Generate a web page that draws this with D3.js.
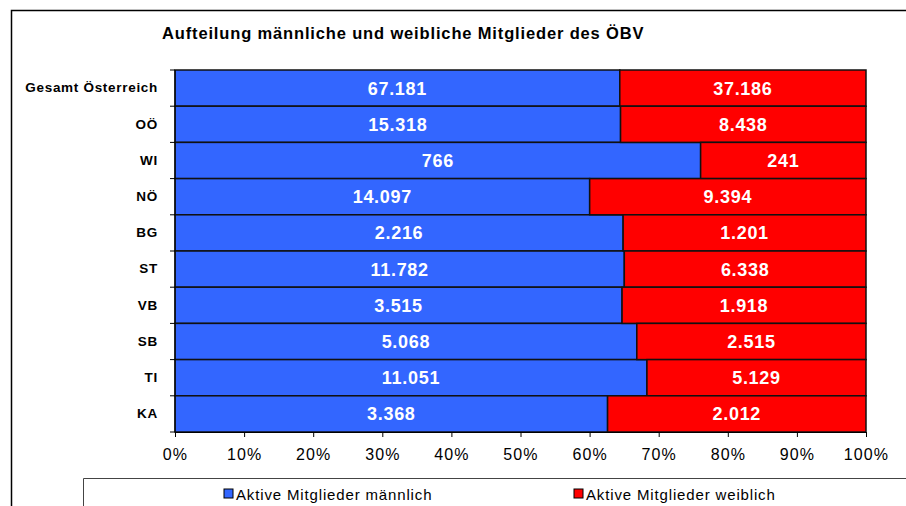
<!DOCTYPE html>
<html>
<head>
<meta charset="utf-8">
<script src="https://cdn.jsdelivr.net/npm/d3@7"></script>
<style>
body { margin: 0; background: #fff; }
svg { font-family: Arial, "Liberation Sans", sans-serif; }
</style>
</head>
<body>
<script>
// data
var regions = ["Gesamt Österreich", "OÖ", "WI", "NÖ", "BG", "ST", "VB", "SB", "TI", "KA"];
var maleValues = [67181, 15318, 766, 14097, 2216, 11782, 3515, 5068, 11051, 3368];
var femaleValues = [37186, 8438, 241, 9394, 1201, 6338, 1918, 2515, 5129, 2012];
var seriesNames = ["Aktive Mitglieder männlich", "Aktive Mitglieder weiblich"];
var xTicks = [0, 0.1, 0.2, 0.3, 0.4, 0.5, 0.6, 0.7, 0.8, 0.9, 1];

var svgWidth = 906, svgHeight = 506;
var margin = {top: 70, left: 175, right: 40, bottom: 74};
var width = svgWidth - margin.left - margin.right;
var height = svgHeight - margin.top - margin.bottom;
var colors = ["#3366FF", "#FF0000"];

var svg = d3.select("body").append("svg")
	.attr("width", svgWidth)
	.attr("height", svgHeight);

// outer frame (open to the right and bottom)
svg.append("path")
	.attr("d", "M11.5," + svgHeight + "V10.5H" + svgWidth)
	.attr("fill", "none")
	.attr("stroke", "#000")
	.attr("stroke-width", 1.5);

svg.append("text")
	.attr("x", 162)
	.attr("y", 39)
	.attr("font-size", "16.5px")
	.attr("font-weight", "bold")
	.attr("letter-spacing", "0.85px")
	.text("Aufteilung männliche und weibliche Mitglieder des ÖBV");

var table = regions.map(function(r, i){
	return {region: r, male: maleValues[i], female: femaleValues[i]};
});
var stack = d3.stack().keys(["male", "female"]).offset(d3.stackOffsetExpand);
var layers = stack(table);

var xScale = d3.scaleLinear().domain([0, 1]).range([0, width]);
var yScale = d3.scaleBand().domain(regions).range([0, height]).padding(0);

var g = svg.append("g")
	.attr("transform", "translate(" + margin.left + "," + margin.top + ")");

var layer = g.selectAll(".layer")
	.data(layers)
	.enter().append("g")
		.attr("class", "layer")
		.attr("fill", function(d, i){ return colors[i]; });

layer.selectAll("rect")
	.data(function(d){ return d; })
	.enter().append("rect")
		.attr("x", function(d){ return xScale(d[0]); })
		.attr("y", function(d){ return yScale(d.data.region); })
		.attr("width", function(d){ return xScale(d[1]) - xScale(d[0]); })
		.attr("height", yScale.bandwidth())
		.attr("stroke", "#111")
		.attr("stroke-width", 1.5);

layer.selectAll("text")
	.data(function(d){ return d; })
	.enter().append("text")
		.attr("x", function(d){ return (xScale(d[0]) + xScale(d[1])) / 2; })
		.attr("y", function(d){ return yScale(d.data.region) + yScale.bandwidth() / 2; })
		.attr("dy", "0.36em")
		.attr("text-anchor", "middle")
		.attr("fill", "#fff")
		.attr("font-size", "18px")
		.attr("font-weight", "bold")
		.attr("letter-spacing", "0.7px")
		.text(function(d){ return d3.format(",")(d[1] === 1 ? d.data.female : d.data.male).replace(/,/g, "."); });

// y axis
var yAxis = g.append("g")
	.call(d3.axisLeft(yScale).tickSize(0).tickPadding(17));
yAxis.select(".domain").attr("stroke", "#000").attr("d", "M0,0V" + height);
yAxis.selectAll("text").attr("font-size", "13.5px").attr("font-weight", "bold")
	.attr("letter-spacing", "0.7px")
	.attr("font-family", "Arial, 'Liberation Sans', sans-serif").attr("fill", "#000");
// separators ticks on the category boundaries
g.selectAll(".ytick")
	.data(regions.concat(["end"]))
	.enter().append("line")
		.attr("x1", -5).attr("x2", 0)
		.attr("y1", function(d, i){ return i * yScale.step(); })
		.attr("y2", function(d, i){ return i * yScale.step(); })
		.attr("stroke", "#000");

// x axis
var xAxis = g.append("g")
	.attr("transform", "translate(0," + height + ")")
	.call(d3.axisBottom(xScale).tickValues(xTicks).tickFormat(d3.format(".0%")).tickSizeOuter(0).tickSize(5).tickPadding(12));
xAxis.select(".domain").attr("stroke", "#000");
xAxis.selectAll("text").attr("font-size", "16px")
	.attr("letter-spacing", "1.1px")
	.attr("font-family", "Arial, 'Liberation Sans', sans-serif").attr("fill", "#000");

// legend
svg.append("path")
	.attr("d", "M83.5," + svgHeight + "V478.5H" + svgWidth)
	.attr("fill", "none")
	.attr("stroke", "#444")
	.attr("stroke-width", 1);

var legendX = [224, 574];
var legend = svg.selectAll(".legend")
	.data(seriesNames)
	.enter().append("g")
		.attr("class", "legend")
		.attr("transform", function(d, i){ return "translate(" + legendX[i] + ",489)"; });
legend.append("rect")
	.attr("width", 9).attr("height", 9)
	.attr("fill", function(d, i){ return colors[i]; })
	.attr("stroke", "#000").attr("stroke-width", 1);
legend.append("text")
	.attr("x", 12).attr("y", 10.5)
	.attr("font-size", "15px")
	.attr("letter-spacing", "0.85px")
	.text(function(d){ return d; });
</script>
</body>
</html>
